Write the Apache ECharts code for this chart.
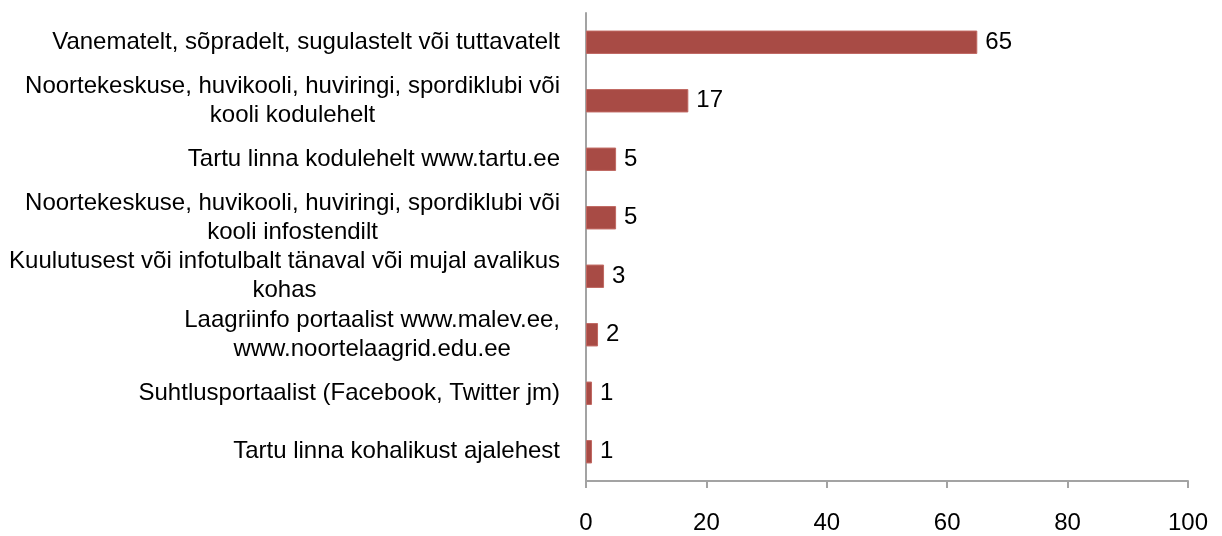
<!DOCTYPE html>
<html>
<head>
<meta charset="utf-8">
<script src="https://cdn.jsdelivr.net/npm/echarts@6/dist/echarts.min.js"></script>
<style>
  html, body { margin: 0; padding: 0; background: #fff; }
  #chart { width: 1222px; height: 536px; }
</style>
</head>
<body>
<div id="chart"></div>
<script>
// categories, top to bottom
const categories = [
  'Vanematelt, sõpradelt, sugulastelt või tuttavatelt',
  'Noortekeskuse, huvikooli, huviringi, spordiklubi või\nkooli kodulehelt',
  'Tartu linna kodulehelt www.tartu.ee',
  'Noortekeskuse, huvikooli, huviringi, spordiklubi või\nkooli infostendilt',
  'Kuulutusest või infotulbalt tänaval või mujal avalikus\nkohas',
  'Laagriinfo portaalist www.malev.ee,\nwww.noortelaagrid.edu.ee',
  'Suhtlusportaalist (Facebook, Twitter jm)',
  'Tartu linna kohalikust ajalehest'
]
const values = [65, 17, 5, 5, 3, 2, 1, 1]

const font = 'Liberation Sans, Arial, sans-serif'
const axisGrey = '#a3a3a3'

const chart = echarts.init(document.getElementById('chart'))
chart.setOption({
  animation: false,
  grid: { left: 586, right: 34, top: 13, bottom: 55 },
  xAxis: {
    type: 'value',
    min: 0,
    max: 100,
    interval: 20,
    splitLine: { show: false },
    axisLine: { show: true, lineStyle: { color: axisGrey, width: 2 } },
    axisTick: { show: true, length: 7, lineStyle: { color: axisGrey, width: 2 } },
    axisLabel: { color: '#000', fontSize: 24, fontFamily: font, margin: 30 }
  },
  yAxis: {
    type: 'category',
    inverse: true,
    data: categories,
    axisLine: { lineStyle: { color: axisGrey, width: 2 } },
    axisTick: { length: 7, lineStyle: { color: axisGrey, width: 2 } },
    axisLabel: {
      margin: 26,
      formatter: v => v.split('\n').map(l => '{c|' + l + '}').join('\n'),
      rich: {
        c: { align: 'center', color: '#000', fontSize: 24, lineHeight: 29, fontFamily: font }
      }
    }
  },
  series: [{
    type: 'bar',
    data: values,
    barCategoryGap: '60%',
    itemStyle: { color: '#a84b45', borderColor: '#c06862', borderWidth: 1 },
    label: {
      show: true,
      position: 'right',
      distance: 8,
      color: '#000',
      fontSize: 24,
      fontFamily: font
    }
  }]
})
</script>
</body>
</html>
